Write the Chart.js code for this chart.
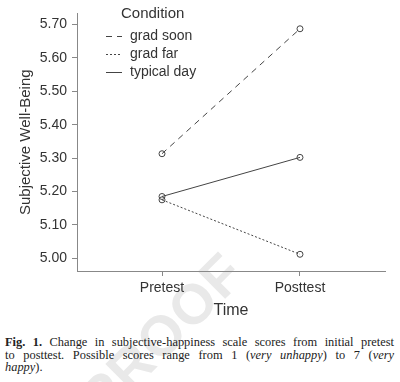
<!DOCTYPE html>
<html><head><meta charset="utf-8">
<script src="https://cdn.jsdelivr.net/npm/chart.js@4.4.0/dist/chart.umd.min.js"></script>
<style>
html,body{margin:0;padding:0;background:#fff;width:400px;height:382px;overflow:hidden;position:relative}
#wrap{position:absolute;left:0;top:0;width:400px;height:320px;z-index:2}
#wm{position:absolute;left:103px;top:374px;font:bold 56px/56px "Liberation Sans",Arial,sans-serif;color:#e9e9e9;transform:rotate(-45deg);transform-origin:0 47px;letter-spacing:1px;z-index:1;white-space:nowrap}
#cap{position:absolute;left:5px;top:336px;width:389px;font:12.4px/12.6px "Liberation Serif","DejaVu Serif",serif;color:#222;z-index:3}
#cap div{text-align:justify;text-align-last:justify;white-space:nowrap}
#cap div.last{text-align-last:left}
</style></head><body>
<div id="wm">PROOF</div>
<div id="wrap"><canvas id="c" width="400" height="320"></canvas></div>
<div id="cap">
<div><b>Fig. 1.</b> Change in subjective-happiness scale scores from initial pretest</div>
<div>to posttest. Possible scores range from 1 (<i>very unhappy</i>) to 7 (<i>very</i></div>
<div class="last"><i>happy</i>).</div>
</div>
<script>
const timeLabels = ['Pretest', 'Posttest'];
const seriesNames = ['grad soon', 'grad far', 'typical day'];
const gradSoon = [5.313, 5.687];
const gradFar = [5.175, 5.012];
const typicalDay = [5.185, 5.302];
const yTicks = [5.00, 5.10, 5.20, 5.30, 5.40, 5.50, 5.60, 5.70];
const legendTitle = 'Condition';
const yTitle = 'Subjective Well-Being';
const xTitle = 'Time';

const ink = '#444';
const dashes = [[6, 5], [2, 2], []];
const allValues = [gradSoon, gradFar, typicalDay];

const datasets = allValues.map((vals, i) => ({
  label: seriesNames[i],
  data: vals.map((v, j) => ({x: j, y: v})),
  borderColor: ink,
  borderWidth: 1,
  borderDash: dashes[i],
  pointRadius: 3,
  pointBorderWidth: 1,
  pointBorderColor: ink,
  pointBackgroundColor: 'rgba(0,0,0,0)',
  fill: false,
  tension: 0
}));

const legendPlugin = {
  id: 'customLegend',
  afterDraw(chart) {
    const ctx = chart.ctx;
    ctx.save();
    ctx.fillStyle = '#333';
    ctx.textBaseline = 'middle';
    ctx.font = '15px "Liberation Sans", Arial, sans-serif';
    ctx.textAlign = 'left';
    ctx.fillText(legendTitle, 121, 14);
    ctx.font = '14px "Liberation Sans", Arial, sans-serif';
    chart.data.datasets.forEach((ds, i) => {
      const y = 36 + i * 18;
      ctx.strokeStyle = ds.borderColor;
      ctx.lineWidth = 1;
      ctx.setLineDash(ds.borderDash);
      ctx.beginPath();
      ctx.moveTo(106, y + 0.5);
      ctx.lineTo(122, y + 0.5);
      ctx.stroke();
      ctx.setLineDash([]);
      ctx.fillText(ds.label, 130, y);
    });
    ctx.restore();
  }
};

new Chart(document.getElementById('c'), {
  type: 'line',
  data: { datasets },
  options: {
    responsive: false,
    animation: false,
    layout: { padding: { top: 5, right: 15, left: 0, bottom: 0 } },
    plugins: { legend: { display: false }, tooltip: { enabled: false } },
    scales: {
      x: {
        type: 'linear',
        min: -0.616, max: 1.616,
        afterBuildTicks: s => { s.ticks = timeLabels.map((_, i) => ({value: i})); },
        afterFit: s => { s.height = 49; },
        ticks: {
          callback: v => timeLabels[v],
          color: '#333',
          font: { size: 14, family: '"Liberation Sans", Arial, sans-serif' },
          padding: 4,
          autoSkip: false, maxRotation: 0
        },
        grid: { drawOnChartArea: false, drawTicks: true, tickLength: 5, color: '#888' },
        border: { display: true, color: '#888', width: 1 },
        title: { display: true, text: xTitle, color: '#333', font: { size: 16, family: '"Liberation Sans", Arial, sans-serif' }, padding: { top: 2, bottom: 0 } }
      },
      y: {
        min: 4.962, max: 5.733,
        afterBuildTicks: s => { s.ticks = yTicks.map(v => ({value: v})); },
        afterFit: s => { s.width = 77; },
        ticks: {
          callback: v => Number(v).toFixed(2),
          color: '#333',
          font: { size: 14, family: '"Liberation Sans", Arial, sans-serif' },
          padding: 5
        },
        grid: { drawOnChartArea: false, drawTicks: true, tickLength: 5, color: '#888' },
        border: { display: true, color: '#888', width: 1 },
        title: { display: true, text: yTitle, color: '#333', font: { size: 15, family: '"Liberation Sans", Arial, sans-serif' }, padding: { top: 17, bottom: 0 } }
      }
    }
  },
  plugins: [legendPlugin]
});
</script>
</body></html>
